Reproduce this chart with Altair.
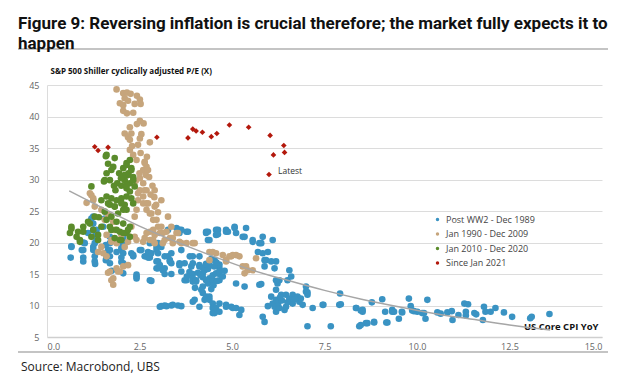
import altair as alt
import pandas as pd

# ---- data (x = US Core CPI YoY, y = Shiller CAPE) ----
blue_pts = [
    (0.66,19.4),(0.64,17.6),(0.66,19.3),(0.94,18.8),(0.98,20.0),(0.98,18.8),(0.98,17.6),(0.98,17.0),(1.02,19.9),
    (1.11,21.5),(1.2,23.8),(1.25,23.0),(1.34,22.0),(1.29,20.9),(1.25,19.3),(1.29,17.8),(1.25,24.1),(1.25,22.0),
    (1.29,19.9),(1.25,18.8),(1.29,17.0),(1.3,16.6),(1.32,21.4),(1.52,22.5),(1.56,23.8),(1.59,19.6),(1.59,18.3),
    (1.59,17.2),(1.65,18.8),(1.61,17.8),(1.7,20.9),(1.7,19.9),(1.7,18.8),(1.7,17.8),(1.7,16.7),(1.75,15.5),
    (1.88,18.5),(2.01,20.1),(2.01,18.8),(2.01,17.6),(2.01,16.9),(2.06,20.7),(2.01,19.1),(2.06,19.6),(2.06,18.3),
    (2.06,16.7),(2.06,15.1),(2.28,18.3),(2.33,17.8),(2.33,18.0),(2.42,14.9),(2.42,14.3),(2.42,14.6),(2.51,18.8),
    (2.55,18.8),(2.64,17.8),(2.73,18.5),(2.73,17.6),(2.78,19.9),(2.78,18.3),(2.78,17.6),(2.78,14.0),(2.82,13.9),
    (2.82,18.3),(2.96,19.3),(2.96,18.8),(2.96,17.0),(2.96,15.9),(3.0,19.9),(3.0,18.3),(3.0,17.0),(3.0,15.9),
    (3.05,16.4),(3.09,19.3),(3.13,15.6),(3.18,17.8),(3.18,15.9),(3.18,15.0),(3.27,22.0),(3.27,17.8),(3.32,17.2),
    (3.32,17.0),(3.36,18.3),(3.36,16.7),(3.36,15.0),(3.5,22.3),(3.54,22.0),(3.58,22.0),(3.58,21.5),(3.58,16.7),
    (3.58,16.4),(3.63,22.0),(3.63,18.8),(3.63,15.4),(3.72,16.7),(3.72,14.0),(3.77,21.7),(3.77,14.0),(3.81,21.7),
    (3.86,17.8),(3.9,16.2),(3.94,17.8),(3.94,16.7),(3.94,15.0),(3.94,13.8),(3.94,14.3),(4.03,14.0),(4.03,13.8),
    (4.12,16.2),(4.12,17.8),(4.12,16.4),(4.21,16.0),(4.21,14.5),(4.21,15.1),(4.21,13.0),(4.21,12.0),(4.3,21.5),
    (4.3,21.7),(4.3,14.0),(4.35,20.4),(4.35,21.7),(4.35,13.5),(4.39,20.4),(4.39,14.3),(4.44,17.4),(4.48,14.0),
    (4.48,14.8),(4.53,17.2),(4.57,22.0),(4.57,21.2),(4.57,15.1),(4.62,22.0),(4.62,21.3),(4.66,16.0),(4.66,15.0),
    (4.66,14.0),(4.66,15.4),(4.66,16.5),(4.84,22.0),(4.84,21.7),(4.89,21.7),(5.07,22.5),(5.07,22.3),(5.11,21.5),
    (5.29,20.9),(5.34,20.9),(5.38,22.3),(5.56,20.4),(5.56,20.1),(5.7,18.5),(5.74,19.9),(5.79,19.9),(5.83,20.9),
    (5.83,18.3),(5.88,17.2),(5.88,16.2),(5.92,17.2),(5.97,18.5),(6.06,17.0),(6.1,20.4),(6.15,15.9),(6.19,17.0),
    (6.23,13.5),(6.28,14.0),(6.5,14.0),(6.55,15.6),(6.6,14.6),(6.19,12.5),(5.79,13.4),(5.74,13.3),(5.34,13.0),
    (5.11,13.5),(7.0,13.0),(6.19,14.0),(7.0,12.2),
    (4.08,15.2),(4.15,14.8),(4.26,15.6),(4.35,15.8),(4.4,16.3),(4.3,16.6),(4.52,16.2),(4.58,16.8),(4.5,13.2),
    (4.6,13.9),(4.75,14.6),(4.8,15.5),(3.85,15.3),(3.78,14.6),(4.0,12.8),(4.44,12.6),
    (3.05,9.8),(3.09,9.9),(3.18,10.0),(3.23,9.9),(3.36,10.0),(3.4,10.1),(3.54,10.0),(3.63,9.9),(3.94,10.6),
    (3.99,10.9),(4.12,9.8),(4.17,12.5),(4.26,10.9),(4.3,11.4),(4.39,11.4),(4.39,10.9),(4.48,10.3),(4.48,9.6),
    (4.48,8.8),(4.53,8.8),(4.57,9.6),(4.66,10.3),(4.66,9.0),(4.84,9.8),(4.84,10.1),(4.98,9.8),(5.02,9.6),
    (5.11,9.6),(5.2,8.5),(5.25,9.3),
    (5.83,8.2),(5.88,7.4),(5.97,9.9),(6.06,11.4),(6.15,9.8),(6.19,10.9),(6.19,9.0),(6.28,9.6),(6.33,11.7),
    (6.42,9.3),(6.46,11.7),(6.46,9.8),(6.64,11.7),(6.64,10.3),(6.77,11.4),(6.82,10.6),(6.86,11.1),(6.91,10.1),
    (6.1,10.3),(6.25,10.4),(6.35,10.8),(6.55,11.1),(6.7,11.0),(6.5,10.5),(6.3,11.3),
    (7.04,11.7),(7.04,12.1),(7.04,6.7),(7.18,9.6),(7.45,10.1),(7.47,10.1),(7.67,6.7),(7.9,10.1),(7.92,11.9),
    (7.94,10.2),(8.35,9.6),(8.36,9.6),(8.44,6.7),(8.48,9.2),(8.48,6.9),(8.53,9.0),(8.53,9.3),(8.62,7.2),
    (8.66,7.2),(8.78,10.5),(8.84,7.4),(8.84,7.3),(9.06,11.0),(9.14,9.0),(9.17,7.3),(9.2,7.3),(9.33,9.3),
    (9.33,9.0),(9.38,9.0),(9.51,7.9),(9.59,9.0),(9.6,8.9),(9.78,11.1),(9.83,9.9),(9.87,9.2),(9.92,9.1),
    (10.01,9.0),(10.14,8.8),(10.19,8.8),(10.23,7.9),(10.28,10.9),(10.55,8.9),(10.64,8.7),(10.82,8.9),
    (10.94,9.1),(10.96,7.7),(11.12,8.5),(11.28,10.3),(11.32,9.0),(11.32,8.4),(11.38,10.2),(11.55,8.8),
    (11.6,8.6),(11.78,7.7),(11.81,9.8),(11.85,9.0),(11.99,9.0),(12.12,9.6),(12.35,8.9),(12.57,8.2),
    (13.06,7.97),(13.1,8.2),(13.58,8.65),
]

tan_pts = [
    (1.88,44.3),(2.06,43.7),(2.16,43.8),(2.26,43.6),(2.1,42.9),(2.19,42.5),(1.97,42.1),(2.06,41.8),(2.43,43.3),
    (2.51,42.7),(2.37,42.0),(2.53,42.0),(2.06,40.9),(2.16,40.5),(2.33,40.6),(2.51,39.3),(2.43,38.8),(2.61,38.9),
    (2.24,38.3),(2.1,37.3),(2.28,37.3),(2.19,36.7),(2.24,36.3),(2.55,37.2),(2.51,36.5),(2.78,35.9),(2.46,35.5),
    (2.24,34.7),(2.33,33.9),(2.53,34.2),(2.42,33.1),(2.64,32.8),(2.69,32.0),(2.6,31.5),(2.67,30.7),(2.76,30.4),
    (2.51,30.2),(2.6,29.4),(2.51,28.3),(2.69,28.3),(2.6,27.3),(2.46,26.7),(2.69,26.2),(1.2,27.5),(1.25,26.7),
    (1.07,26.3),(2.64,32.6),(2.73,31.5),(2.64,28.3),(2.46,27.8),(2.73,26.2),(2.69,25.2),(2.82,24.6),(2.91,25.7),
    (2.87,23.6),(3.0,22.5),(3.09,21.5),(2.91,21.2),(2.78,21.7),(2.64,20.7),(2.82,20.4),(3.18,20.4),(3.36,20.7),
    (2.37,24.1),(2.28,22.5),(2.37,20.9),(2.19,20.1),(1.16,27.8),(1.25,27.0),(1.29,25.7),(1.47,25.2),(1.65,24.4),
    (1.56,23.6),(1.79,23.3),(1.83,22.0),(1.74,20.4),(2.01,21.2),(2.1,19.3),(2.91,28.3),(3.09,26.7),(3.27,24.1),
    (3.36,22.5),(3.54,21.5),(3.63,19.9),(2.87,22.0),(3.05,21.5),(2.78,20.4),(2.6,20.1),(2.91,19.9),(3.13,19.9),
    (3.32,20.7),(3.4,19.9),(3.58,20.1),(3.77,19.9),(3.94,19.9),(3.5,21.5),(3.23,21.7),(4.39,18.5),(4.57,18.3),
    (4.75,18.0),(4.84,17.2),(4.98,17.8),(5.11,18.0),(1.7,15.4),(1.74,14.0),(1.79,13.3),(1.88,15.9),(1.97,15.4),
    (2.06,16.2),(1.47,19.3),(1.38,18.5),(1.52,18.3),(1.61,17.8),(1.74,20.1),(1.88,19.9),(1.61,21.2),(2.24,20.9),
    (2.42,20.4),(1.65,15.2),(1.79,14.3),(1.92,15.4),(2.19,16.4),(2.69,21.5),(2.87,20.4),(3.13,21.5),(3.4,20.7),
    (3.99,19.9),(4.93,17.8),(4.84,17.0),(5.29,16.2),(5.43,15.6),(5.34,15.1),(5.56,15.6),(2.42,25.2),(2.6,26.2),
    (2.78,24.6),(2.96,23.6),(3.09,22.5),(4.48,18.5),(4.39,17.2),(5.02,18.0),(5.2,17.8),(5.38,16.2),(5.65,17.5),
    (2.85,29.0),(2.9,27.2),(2.95,26.0),(3.0,24.8),(2.5,31.0),(2.3,35.3),(2.7,33.6),(2.4,29.8),(2.8,27.6),
]

green_pts = [
    (1.59,33.7),(1.83,33.4),(1.65,32.5),(1.74,31.5),(1.61,31.0),(1.7,29.9),(1.54,29.7),(1.81,29.0),(1.9,29.4),
    (2.01,29.0),(2.06,31.8),(2.15,32.6),(2.24,33.1),(2.28,31.8),(2.19,30.7),(2.33,30.4),(2.1,29.9),(2.24,29.4),
    (2.15,28.6),(2.37,28.9),(1.2,28.9),(1.61,27.3),(1.74,27.0),(1.88,26.7),(2.01,27.0),(2.15,27.3),(2.28,27.0),
    (1.7,26.0),(1.83,25.7),(2.1,26.0),(2.33,26.2),(1.61,33.9),(1.79,32.0),(1.56,29.9),(2.15,32.3),(2.28,31.5),
    (2.1,30.7),(2.33,29.9),(2.15,29.1),(2.24,28.1),(1.47,26.7),(1.65,26.2),(2.01,26.2),(2.15,25.2),(1.92,24.6),
    (1.74,24.1),(1.61,23.6),(1.88,23.3),(2.06,23.0),(2.24,22.5),(1.74,22.0),(1.97,21.7),(2.15,21.5),(1.83,20.7),
    (2.01,20.4),(1.11,23.3),(0.98,22.5),(0.84,21.7),(0.66,22.2),(0.62,21.5),(0.89,20.4),(1.2,20.9),(1.38,20.4),
    (1.47,22.5),(1.29,24.1),(0.66,22.5),(0.8,20.9),(0.98,21.7),(0.89,20.1),(1.16,23.0),(1.25,22.0),(1.38,21.2),
    (1.7,22.5),(1.88,22.0),(2.06,21.5),(2.19,22.0),(1.97,20.4),(2.24,20.9),(1.83,25.7),(2.06,25.2),(1.56,24.9),
    (1.95,31.0),(2.0,30.2),(2.2,31.0),(1.85,28.3),(1.4,24.0),
]

red_pts = [
    (1.29,35.2),(1.38,34.6),(1.65,35.1),(2.97,36.7),(3.81,36.6),(3.94,38.0),(4.03,37.7),(4.2,37.5),(4.44,36.8),
    (4.59,37.3),(4.93,38.65),(5.45,38.3),(6.03,37.0),(6.12,33.9),(6.4,35.4),(6.42,34.3),(6.0,30.8),
]

trend_x = [0.6, 1.5, 2.5, 3.5, 4.5, 5.5, 6.5, 7.5, 8.5, 9.5, 10.5, 11.5, 12.5, 13.6]
trend_y = [28.2, 25.5, 22.6, 20.1, 17.8, 15.7, 14.0, 12.4, 11.0, 9.8, 8.7, 7.8, 6.9, 6.1]

series_names = ["Post WW2 - Dec 1989", "Jan 1990 - Dec 2009", "Jan 2010 - Dec 2020", "Since Jan 2021"]
series_colors = ["#3a93c3", "#c6a57c", "#5b8c2c", "#b3180c"]
x_ticks = [0, 2.5, 5, 7.5, 10, 12.5, 15]
y_ticks = [5, 10, 15, 20, 25, 30, 35, 40, 45]

title_lines = ["Figure 9: Reversing inflation is crucial therefore; the market fully expects it to", "happen"]
y_title = "S&P 500 Shiller cyclically adjusted P/E (X)"
x_title = "US Core CPI YoY"
source_text = "Source: Macrobond, UBS"
latest_label = "Latest"

# ---- build tables ----
rows = []
for name, pts in zip(series_names[:3], [blue_pts, tan_pts, green_pts]):
    for x, y in pts:
        rows.append({"x": x, "y": y, "series": name})
pts_df = pd.DataFrame(rows)
red_df = pd.DataFrame({"x": [p[0] for p in red_pts], "y": [p[1] for p in red_pts], "series": series_names[3]})
trend_df = pd.DataFrame({"x": trend_x, "y": trend_y})
latest_df = pd.DataFrame({"x": [red_pts[-1][0]], "y": [red_pts[-1][1]], "t": [latest_label]})
one = pd.DataFrame({"t": [source_text]})

FONT = "Open Sans"

xs = alt.Scale(domain=[0, 15], nice=False)
ys = alt.Scale(domain=[5, 45], nice=False)
cs = alt.Scale(domain=series_names, range=series_colors)

x_axis = alt.Axis(
    values=x_ticks, format=".1f", grid=False, ticks=False, domainColor="#cfcfcf", domainWidth=1.5,
    labelColor="#666666", labelFontSize=9, labelFont=FONT, labelPadding=5, labelOverlap=False,
    title=x_title, titleX=551, titleY=-6, titleAlign="right", titleBaseline="bottom",
    titleFontSize=9.5, titleFont=FONT, titleFontWeight="bold", titleColor="#111111")
y_axis = alt.Axis(
    values=y_ticks, tickCount=9, grid=True, gridColor="#dcdcdc", ticks=False, domainColor="#dcdcdc",
    labelColor="#666666", labelFontSize=9, labelFont=FONT, labelPadding=8, labelOverlap=False,
    title=y_title, titleAngle=0, titleAlign="left", titleX=3, titleY=-10, titleBaseline="bottom",
    titleFontSize=8, titleFont=FONT, titleFontWeight="bold", titleColor="#111111")


def xe():
    return alt.X("x:Q", scale=xs, axis=x_axis)


def ye():
    return alt.Y("y:Q", scale=ys, axis=y_axis)


scatter = alt.Chart(pts_df).mark_circle(size=44, opacity=1).encode(
    x=xe(), y=ye(),
    color=alt.Color("series:N", scale=cs, legend=alt.Legend(
        title=None, orient="none", legendX=386, legendY=130, symbolType="circle", symbolSize=12,
        labelFontSize=9, labelFont=FONT, labelColor="#444444", rowPadding=4.5, symbolStrokeWidth=0)),
)

trend = alt.Chart(trend_df).mark_line(color="#a6a6a6", strokeWidth=1.5, interpolate="monotone").encode(
    x=xe(), y=ye())

red = alt.Chart(red_df).mark_point(shape="diamond", filled=True, size=32, opacity=1).encode(
    x=xe(), y=ye(), color=alt.Color("series:N", scale=cs))

latest = alt.Chart(latest_df).mark_text(align="left", dx=9, dy=-3, fontSize=8.5, font=FONT, color="#333333").encode(
    x=xe(), y=ye(), text="t:N")

rule_top = alt.Chart(one).mark_rule(color="#c4c4c4", strokeWidth=2).encode(
    x=alt.value(-29), x2=alt.value(561), y=alt.value(-36))
rule_bot = alt.Chart(one).mark_rule(color="#c4c4c4", strokeWidth=2).encode(
    x=alt.value(-29), x2=alt.value(561), y=alt.value(267))
source = alt.Chart(one).mark_text(align="left", baseline="middle", fontSize=12, font=FONT, color="#222222").encode(
    x=alt.value(-26), y=alt.value(282), text="t:N")

chart = alt.layer(scatter, trend, red, latest, rule_top, rule_bot, source).properties(
    width=555, height=252,
    autosize=alt.AutoSizeParams(type="none"),
    padding={"left": 39, "top": 77, "right": 20, "bottom": 40},
    title=alt.TitleParams(text=title_lines, anchor="start", frame="group", dx=-29, offset=-5,
                          fontSize=17, font="Roboto", fontWeight="bold", color="#111111", lineHeight=20),
    background="white",
).configure_view(stroke=None)

chart.save("out.html", embed_options={"renderer": "svg", "actions": False})
